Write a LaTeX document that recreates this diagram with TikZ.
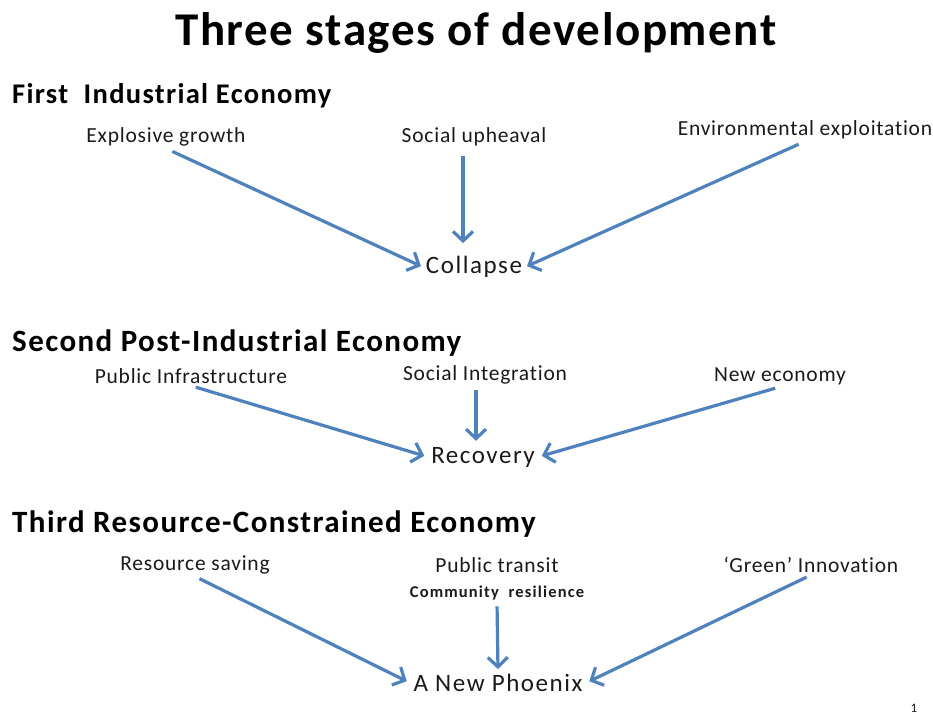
\documentclass[tikz,border=0pt]{standalone}
\usepackage{fontspec}
\setmainfont{Carlito}
\usetikzlibrary{arrows.meta}
\definecolor{arrowblue}{HTML}{4F81BD}
\definecolor{ink}{HTML}{1A1A1A}
\newfontfamily\titlefont[LetterSpace=3.4]{Carlito}
\newfontfamily\headfont[LetterSpace=4.6]{Carlito}
\newfontfamily\causefont[LetterSpace=3.6, Ligatures=NoCommon]{Carlito}
\newfontfamily\resultfont[LetterSpace=6.2]{Carlito}
\newfontfamily\notefont[LetterSpace=7]{Carlito}
\begin{document}
\begin{tikzpicture}[x=1pt,y=-1pt,
  title/.style={font=\titlefont\fontsize{47}{50}\selectfont\bfseries, text=black},
  heading/.style={font=\headfont\fontsize{31}{34}\selectfont\bfseries, text=black, anchor=west, inner sep=0pt},
  cause/.style={font=\causefont\fontsize{21.5}{24}\selectfont, text=ink, inner sep=2pt},
  result/.style={font=\resultfont\fontsize{25}{28}\selectfont, text=ink, inner sep=3pt},
  note/.style={font=\notefont\fontsize{16.5}{18}\selectfont\bfseries, text=ink, inner sep=2pt},
  conn/.style={draw=arrowblue, line width=3.2pt,
    -{Straight Barb[length=9.5pt,width=20pt,line width=3.2pt]}}
]
\useasboundingbox (0,0) rectangle (933,714);

\node[title] (t) at (476,33) {Three stages of development};

% First stage
\node[heading, font=\headfont\fontsize{28.5}{32}\selectfont\bfseries] (h1) at (12,96) {First\ \ Industrial Economy};
\node[cause] (c11) at (166,137) {Explosive growth};
\node[cause] (c12) at (474,137) {Social upheaval};
\node[cause] (c13) at (805,130) {Environmental exploitation};
\node[result] (r1) at (474,267) {Collapse};
\draw[conn, shorten <=7pt, shorten >=2pt] (c11.south) -- (r1.west);
\draw[conn, shorten <=8pt, shorten >=10pt] (c12.south -| 463,0) -- (r1.north -| 463,0);
\draw[conn, shorten <=7pt, shorten >=2pt] (c13.south) -- (r1.east);

% Second stage
\node[heading] (h2) at (12,343) {Second Post-Industrial Economy};
\node[cause] (c21) at (191,376) {Public Infrastructure};
\node[cause] (c22) at (485,375) {Social Integration};
\node[cause] (c23) at (780,376) {New economy};
\node[result] (r2) at (483,457) {Recovery};
\draw[conn, shorten <=5pt, shorten >=4pt] (c21.south) -- (r2.west);
\draw[conn, shorten <=3pt, shorten >=3pt] (c22.south -| 476,0) -- (r2.north -| 476,0);
\draw[conn, shorten <=5pt, shorten >=4pt] (c23.south) -- (r2.east);

% Third stage
\node[heading] (h3) at (12,524) {Third Resource-Constrained Economy};
\node[cause] (c31) at (195,565) {Resource saving};
\node[cause] (c32) at (497,565) {Public transit};
\node[note] (c33) at (497,593) {Community\ \ resilience};
\node[cause] (c34) at (811,565) {‘Green’ Innovation};
\node[result] (r3) at (498,683) {A New Phoenix};
\draw[conn, shorten <=5pt, shorten >=4pt] (c31.south) -- (r3.west);
\draw[conn, shorten <=4pt, shorten >=2pt] (c33.south) -- (r3.north);
\draw[conn, shorten <=5pt, shorten >=4pt] (c34.south) -- (r3.east);

\node[font=\fontsize{13}{15}\selectfont, text=ink] (pg) at (914,708) {1};
\end{tikzpicture}
\end{document}
